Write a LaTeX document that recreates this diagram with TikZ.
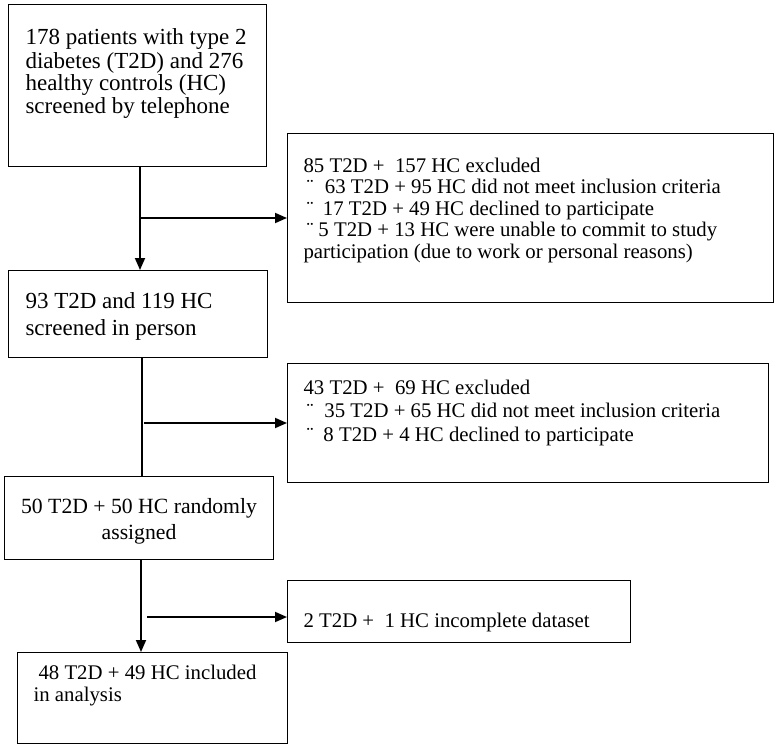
\documentclass[tikz,border=0pt]{standalone}
\usepackage{fontspec}
\setmainfont{Liberation Serif}
\usetikzlibrary{arrows.meta}
\newcommand{\boxtext}[5]{\parbox[c][#2][t]{#1}{\raggedright\leftskip=#3\relax\vspace*{#4}\strut#5}}

\begin{document}
\begin{tikzpicture}[x=1pt,y=-1pt,
  box/.style={draw=black, line width=1.1pt, inner sep=0pt, anchor=north west},
  link/.style={draw=black, line width=1.8pt},
  tip/.style={-{Triangle[length=12pt,width=10pt]}}]
\useasboundingbox (0,0) rectangle (779,749);
\node[box, font=\fontsize{23}{22.3}\selectfont] (tel) at (8,4)
  {\boxtext{258pt}{162pt}{17pt}{24.4pt}{178 patients with type 2\\diabetes (T2D) and 276\\healthy controls (HC)\\screened by telephone}};
\node[box, font=\fontsize{20.8}{21.5}\selectfont] (excl1) at (287,133)
  {\boxtext{486pt}{169pt}{16pt}{23.6pt}{85 T2D + \ 157 HC excluded\\
  \hspace*{3pt}¨\hspace{11.5pt}63 T2D + 95 HC did not meet inclusion criteria\\
  \hspace*{3pt}¨\hspace{9.5pt}17 T2D + 49 HC declined to participate\\
  \hspace*{3pt}¨\hspace{5pt}5 T2D + 13 HC were unable to commit to study\\
  participation (due to work or personal reasons)}};
\node[box, font=\fontsize{23}{27}\selectfont] (person) at (8,270)
  {\boxtext{259pt}{87pt}{17pt}{19.1pt}{93 T2D and 119 HC\\screened in person}};
\node[box, font=\fontsize{20.8}{23.3}\selectfont] (excl2) at (287,363)
  {\boxtext{481pt}{119pt}{16pt}{14.7pt}{43 T2D + \ 69 HC excluded\\
  \hspace*{3pt}¨\hspace{11pt}35 T2D + 65 HC did not meet inclusion criteria\\
  \hspace*{3pt}¨\hspace{10pt}8 T2D + 4 HC declined to participate}};
\node[box, font=\fontsize{21.7}{26}\selectfont] (random) at (4,476)
  {\boxtext{269pt}{83pt}{0pt}{18.5pt}{\centering 50 T2D + 50 HC randomly\\assigned}};
\node[box, font=\fontsize{20.8}{23}\selectfont] (incompl) at (287,580)
  {\boxtext{343pt}{62pt}{16pt}{30.9pt}{2 T2D + \ 1 HC incomplete dataset}};
\node[box, font=\fontsize{20.8}{21.5}\selectfont] (analysis) at (17,652)
  {\boxtext{270pt}{91pt}{16pt}{12pt}{\hspace*{5pt}48 T2D + 49 HC included\\in analysis}};
\coordinate (j1) at (140,218);
\coordinate (j2) at (142,423);
\coordinate (j3) at (141,617);
\draw[link, tip] (tel.south -| j1) -- (person.north -| j1);
\draw[link, tip] (j1) -- (excl1.west |- j1);
\draw[link] (person.south -| j2) -- (random.north -| j2);
\draw[link, tip] ([xshift=2pt]j2) -- (excl2.west |- j2);
\draw[link, tip] (random.south -| j3) -- (analysis.north -| j3);
\draw[link, tip] ([xshift=6pt]j3) -- (incompl.west |- j3);
\end{tikzpicture}
\end{document}
